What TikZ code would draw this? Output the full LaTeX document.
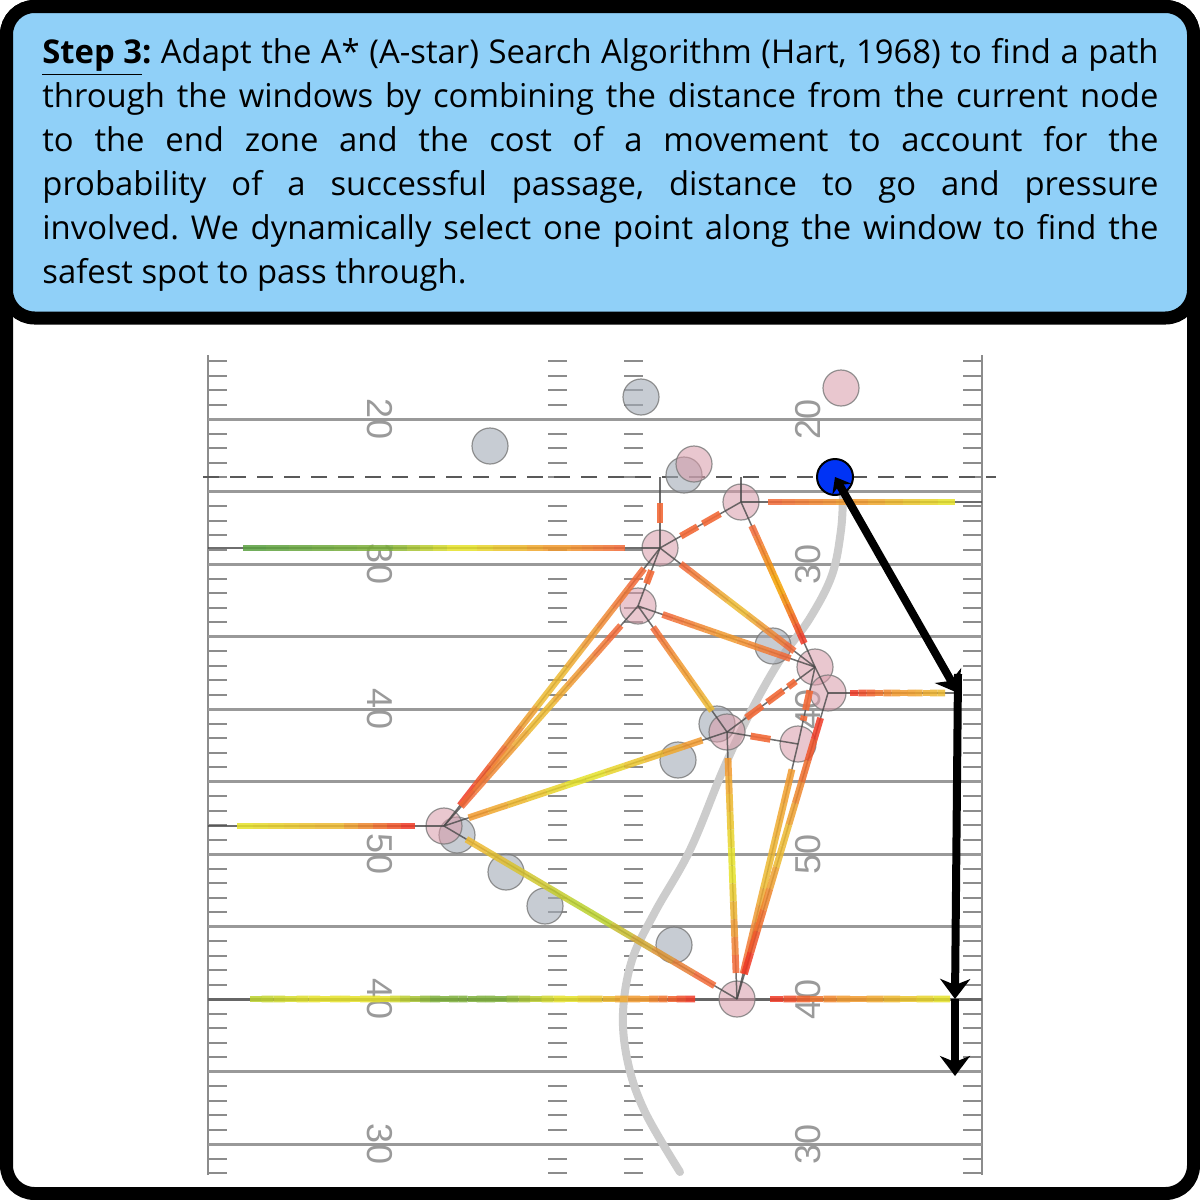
\documentclass[tikz,border=0pt]{standalone}
\usepackage{fontspec}
\setmainfont{Open Sans}
\newfontfamily\numfont{Liberation Sans}
\usetikzlibrary{calc,arrows.meta}

\definecolor{hdrblue}{HTML}{90D0F8}
\definecolor{fieldline}{HTML}{999999}
\definecolor{tickc}{HTML}{8C8C8C}
\definecolor{numc}{HTML}{9A9A9A}
\definecolor{pinkfill}{HTML}{D89AA8}
\definecolor{grayfill}{HTML}{A3ABB6}
\definecolor{nodeborder}{HTML}{7A7A7A}
\definecolor{thinc}{HTML}{4A4A4A}
\definecolor{cred}{HTML}{F03A26}
\definecolor{cror}{HTML}{F26A38}
\definecolor{corg}{HTML}{F29A2E}
\definecolor{cyo}{HTML}{EDBA32}
\definecolor{cyel}{HTML}{E6E22A}
\definecolor{cylg}{HTML}{BCD22E}
\definecolor{cgrn}{HTML}{5AA040}
\definecolor{cgrn2}{HTML}{7DB03A}
\definecolor{cstrong}{HTML}{F5A000}
\definecolor{ballblue}{HTML}{0033F5}
\definecolor{curvec}{HTML}{CCCCCC}

\tikzset{
  yardline/.style={draw=fieldline, line width=1.5pt},
  sideline/.style={draw=tickc, line width=1.3pt},
  tickline/.style={draw=tickc, line width=1pt},
  ynum/.style={text=numc, font=\numfont\fontsize{18}{18}\selectfont, inner sep=0pt},
  pinkp/.style={circle, minimum size=18pt, inner sep=0pt, fill=pinkfill, fill opacity=0.55, draw=nodeborder, draw opacity=0.8, line width=0.6pt},
  grayp/.style={circle, minimum size=18pt, inner sep=0pt, fill=grayfill, fill opacity=0.6, draw=nodeborder, draw opacity=0.8, line width=0.6pt},
  thinl/.style={draw=thinc, line width=0.75pt, draw opacity=0.8},
  colseg/.style={line width=3.4pt, draw opacity=0.85},
  dashseg/.style={line width=3.4pt, draw=cror, draw opacity=0.9, dash pattern=on 10pt off 3pt},
  bigarrow/.style={line width=4pt, draw=black, -{Stealth[length=10pt,width=15pt,inset=3pt]}},
}

\newcommand\gseg[4]{%
  \foreach \k in {0,...,5}{%
    \pgfmathsetmacro\pa{\k/6}%
    \pgfmathsetmacro\pb{(\k+1)/6}%
    \pgfmathtruncatemacro\pc{100-\k*20}%
    \draw[colseg, draw=#3!\pc!#4] ($(#1)!\pa!(#2)$) -- ($(#1)!\pb!(#2)$);
  }}
\newcommand\hseg[5]{% x1 x2 y c1 c2
  \coordinate (ha) at (#1,#3);
  \coordinate (hb) at (#2,#3);
  \gseg{ha}{hb}{#4}{#5}}
\newcommand\gedge[5]{%
  \draw[thinl] (#1.center) -- (#2.center);
  \coordinate (es) at ($(#1.center)!13pt!(#2.center)$);
  \coordinate (ee) at ($(#2.center)!13pt!(#1.center)$);
  \coordinate (em) at ($(es)!0.5!(ee)$);
  \gseg{es}{em}{#3}{#4}
  \gseg{em}{ee}{#4}{#5}}
\newcommand\dedge[2]{%
  \draw[thinl] (#1.center) -- (#2.center);
  \draw[dashseg] ($(#1.center)!12pt!(#2.center)$) -- ($(#2.center)!12pt!(#1.center)$);}

\begin{document}
\begin{tikzpicture}[x=0.5pt,y=-0.5pt]
\useasboundingbox (0,0) rectangle (1200,1200);

% outer frame
\draw[line width=6.5pt, fill=white, rounded corners=14pt] (6.5,6.5) rectangle (1193.5,1193.5);

% ---------- field ----------
\draw[sideline] (208,355) -- (208,1175);
\draw[sideline] (982,355) -- (982,1175);
\foreach \j in {-4,...,52}{%
  \pgfmathtruncatemacro\r{mod(\j+5,5)}%
  \ifnum\r>0
    \pgfmathsetmacro\yy{419+14.5*\j}%
    \draw[tickline] (208,\yy) -- (227,\yy);
    \draw[tickline] (548,\yy) -- (567,\yy);
    \draw[tickline] (624,\yy) -- (643,\yy);
    \draw[tickline] (963,\yy) -- (982,\yy);
  \fi}
\foreach \k in {0,...,10}{%
  \draw[yardline] (208,{419+72.5*\k}) -- (982,{419+72.5*\k});}
\draw[draw=black!60, line width=1.5pt] (208,999) -- (982,999);
\draw[draw=black!65, line width=1.3pt, dash pattern=on 8pt off 5.5pt] (203,477) -- (996,477);

\foreach \v/\t in {0/20,2/30,4/40,6/50,8/40,10/30}{%
  \node[ynum, rotate=-90] (numL\v) at (380,{419+72.5*\v}) {\t};
  \node[ynum, rotate=90] (numR\v) at (808,{419+72.5*\v}) {\t};}

% ball carrier path
\draw[curvec, line width=4pt, line cap=round] plot[smooth, tension=0.6] coordinates
  {(843,494) (841,530) (832,575) (810,618) (780,660) (750,713) (723,770) (690,850) (655,912) (632,960) (623,1013) (628,1063) (645,1112) (680,1172)};

% ---------- players ----------
\node[grayp] (G1) at (641,397) {};
\node[grayp] (G2) at (490,446) {};
\node[grayp] (G3) at (684,475) {};
\node[grayp] (G4) at (773,646) {};
\node[grayp] (G5) at (717,724) {};
\node[grayp] (G6) at (678,760) {};
\node[grayp] (G7) at (457,835) {};
\node[grayp] (G8) at (506,872) {};
\node[grayp] (G9) at (545,906) {};
\node[grayp] (G10) at (674,945) {};

\node[pinkp] (P1) at (841,388) {};
\node[pinkp] (P2) at (694,464) {};
\node[pinkp] (P3) at (741,502) {};
\node[pinkp] (P4) at (660,548) {};
\node[pinkp] (P5) at (638,606) {};
\node[pinkp] (P6) at (815,667) {};
\node[pinkp] (P7) at (828,693) {};
\node[pinkp] (P8) at (727,732) {};
\node[pinkp] (P9) at (798,744) {};
\node[pinkp] (P10) at (444,826) {};
\node[pinkp] (P11) at (737,999) {};

% ---------- windows ----------
\coordinate (W1L) at (208,548);
\coordinate (W2R) at (982,502);
\coordinate (W3R) at (958,693);
\coordinate (W4L) at (208,826);
\coordinate (W5L) at (208,999);
\coordinate (W5R) at (955,999);
\coordinate (LS4) at (660,477);
\coordinate (LS3) at (741,477);
\draw[thinl] (W1L) -- (P4.center);
\draw[thinl] (P3.center) -- (W2R);
\draw[thinl] (P7.center) -- (W3R);
\draw[thinl] (W4L) -- (P10.center);
\draw[thinl] (LS4) -- (P4.center);
\draw[thinl] (LS3) -- (P3.center);

\hseg{243}{380}{548}{cgrn}{cgrn2}
\hseg{380}{460}{548}{cgrn2}{cyel}
\hseg{460}{560}{548}{cyel}{corg}
\hseg{560}{625}{548}{corg}{cror}

\hseg{768}{850}{502}{cror}{corg}
\hseg{850}{955}{502}{corg}{cyel}

\hseg{850}{900}{693}{cred}{corg}
\hseg{900}{945}{693}{corg}{cyo}

\hseg{237}{330}{826}{cyel}{cyo}
\hseg{330}{415}{826}{cyo}{cred}

\hseg{250}{320}{999}{cylg}{cyel}
\hseg{320}{380}{999}{cyel}{cyel}
\hseg{380}{440}{999}{cyel}{cgrn2}
\hseg{440}{495}{999}{cgrn2}{cgrn2}
\hseg{495}{565}{999}{cgrn2}{cyel}
\hseg{565}{640}{999}{cyel}{corg}
\hseg{640}{695}{999}{corg}{cred}
\hseg{770}{850}{999}{cred}{corg}
\hseg{850}{950}{999}{corg}{cyel}

\coordinate (V4a) at (660,503);
\coordinate (V4b) at (660,528);
\draw[dashseg] (V4a) -- (V4b);

% ---------- graph edges ----------
\dedge{P3}{P4}
\dedge{P4}{P5}
\dedge{P8}{P6}
\dedge{P8}{P9}
\dedge{P6}{P9}
\draw[thinl] (P6.center) -- (P7.center);
\gedge{P4}{P6}{cror}{cyo}{cror}
\gedge{P5}{P6}{cror}{corg}{cror}
\gedge{P5}{P8}{cror}{corg}{cyo}
\gedge{P10}{P4}{cred}{cyo}{cror}
\gedge{P10}{P5}{cror}{cyo}{cror}
\gedge{P10}{P8}{corg}{cyel}{corg}
\gedge{P10}{P11}{cyo}{cylg}{cror}
\gedge{P8}{P11}{corg}{cyel}{cror}
\gedge{P9}{P11}{corg}{cyo}{cror}
\gedge{P7}{P11}{cred}{cyo}{cred}
\gedge{P3}{P6}{cror}{cstrong}{cred}

% ---------- ball carrier and route ----------
\node[circle, minimum size=18pt, inner sep=0pt, fill=ballblue, draw=black, line width=1pt] (BC) at (835,477) {};
\coordinate (A0) at (958,674);
\coordinate (A2) at (955,999);
\coordinate (A3) at (955,1076);
\draw[line width=4pt, {Stealth[length=7pt,width=11pt,inset=2.5pt]}-{Stealth[length=10pt,width=15pt,inset=3pt]}] (BC.center) -- (W3R);
\draw[bigarrow] (A0) -- (A2);
\draw[bigarrow] (A2) -- (A3);

% ---------- header ----------
\draw[line width=6.5pt, fill=hdrblue, rounded corners=14pt] (6.5,6.5) rectangle (1193.5,318);
\node[anchor=north west, inner sep=0pt, text width=558pt, align=justify,
      font=\fontsize{16.4}{22}\selectfont\frenchspacing] (hdr) at (42,38)
  {\textbf{\underline{Step 3}:} Adapt the A* (A-star) Search Algorithm (Hart, 1968) to find a path\linebreak
   through the windows by combining the distance from the current node\linebreak
   to the end zone and the cost of a movement to account for the\linebreak
   probability of a successful passage, distance to go and pressure\linebreak
   involved. We dynamically select one point along the window to find the\linebreak
   safest spot to pass through.};
\end{tikzpicture}
\end{document}
